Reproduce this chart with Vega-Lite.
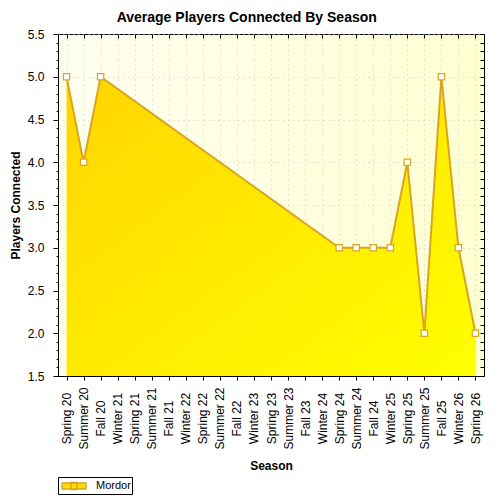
{
  "$schema": "https://vega.github.io/schema/vega-lite/v6.json",
  "width": 426,
  "height": 342,
  "autosize": "none",
  "padding": {"left": 58, "top": 34, "right": 16, "bottom": 124},
  "background": "white",
  "title": {
    "text": "Average Players Connected By Season",
    "font": "Liberation Sans",
    "fontSize": 14,
    "fontWeight": "bold",
    "color": "black",
    "anchor": "middle",
    "frame": "bounds",
    "offset": 3
  },
  "data": {
    "values": [
      {"season": "Spring 20", "players": 5, "series": "Mordor"},
      {"season": "Summer 20", "players": 4, "series": "Mordor"},
      {"season": "Fall 20", "players": 5, "series": "Mordor"},
      {"season": "Spring 24", "players": 3, "series": "Mordor"},
      {"season": "Summer 24", "players": 3, "series": "Mordor"},
      {"season": "Fall 24", "players": 3, "series": "Mordor"},
      {"season": "Winter 25", "players": 3, "series": "Mordor"},
      {"season": "Spring 25", "players": 4, "series": "Mordor"},
      {"season": "Summer 25", "players": 2, "series": "Mordor"},
      {"season": "Fall 25", "players": 5, "series": "Mordor"},
      {"season": "Winter 26", "players": 3, "series": "Mordor"},
      {"season": "Spring 26", "players": 2, "series": "Mordor"}
    ]
  },
  "resolve": {"axis": {"x": "independent", "y": "independent"}},
  "layer": [
    {
      "mark": {
        "type": "area",
        "fill": {
          "gradient": "linear",
          "x1": 0, "y1": 0, "x2": 1, "y2": 1,
          "stops": [
            {"offset": 0, "color": "#FFD500"},
            {"offset": 1, "color": "#FFFF00"}
          ]
        },
        "clip": true
      },
      "encoding": {
        "x": {
          "field": "season",
          "type": "ordinal",
          "scale": {
            "type": "point",
            "padding": 0.5,
            "domain": ["Spring 20", "Summer 20", "Fall 20", "Winter 21", "Spring 21", "Summer 21", "Fall 21", "Winter 22", "Spring 22", "Summer 22", "Fall 22", "Winter 23", "Spring 23", "Summer 23", "Fall 23", "Winter 24", "Spring 24", "Summer 24", "Fall 24", "Winter 25", "Spring 25", "Summer 25", "Fall 25", "Winter 26", "Spring 26"]
          },
          "axis": {
            "orient": "bottom",
            "title": "Season",
            "titleFont": "Liberation Sans",
            "titleFontSize": 12,
            "titleFontWeight": "bold",
            "titleColor": "black",
            "titleY": 89,
            "titleBaseline": "middle",
            "labelFont": "Liberation Sans",
            "labelFontSize": 12,
            "labelColor": "black",
            "labelAngle": -90,
            "labelAlign": "center",
            "labelBaseline": "middle",
            "labelPadding": 38,
            "labelOverlap": false,
            "tickSize": 4,
            "tickColor": "black",
            "domainColor": "black",
            "grid": true,
            "gridColor": "#C8C8C8",
            "gridDash": [1, 4]
          }
        },
        "y": {
          "field": "players",
          "type": "quantitative",
          "scale": {"domain": [1.5, 5.5], "zero": false, "nice": false},
          "axis": {
            "orient": "left",
            "title": "Players Connected",
            "titleFont": "Liberation Sans",
            "titleFontSize": 12,
            "titleFontWeight": "bold",
            "titleColor": "black",
            "titleX": -43,
            "titleBaseline": "middle",
            "values": [1.5, 1.6, 1.7, 1.8, 1.9, 2.0, 2.1, 2.2, 2.3, 2.4, 2.5, 2.6, 2.7, 2.8, 2.9, 3.0, 3.1, 3.2, 3.3, 3.4, 3.5, 3.6, 3.7, 3.8, 3.9, 4.0, 4.1, 4.2, 4.3, 4.4, 4.5, 4.6, 4.7, 4.8, 4.9, 5.0, 5.1, 5.2, 5.3, 5.4, 5.5],
            "labelExpr": "round(datum.value*10) % 5 === 0 ? format(datum.value, '.1f') : ''",
            "labelFont": "Liberation Sans",
            "labelFontSize": 12,
            "labelColor": "black",
            "labelPadding": 9,
            "labelOverlap": false,
            "tickColor": "black",
            "tickSize": {"condition": {"test": "round(datum.value*10) % 5 === 0", "value": 5}, "value": 2},
            "domainColor": "black",
            "grid": true,
            "gridColor": "#C8C8C8",
            "gridDash": [1, 4],
            "gridOpacity": {"condition": {"test": "round(datum.value*10) % 5 === 0", "value": 1}, "value": 0}
          }
        },
        "y2": {"datum": 1.5},
        "order": {"value": null}
      }
    },
    {
      "mark": {"type": "line", "strokeWidth": 2},
      "encoding": {
        "x": {
          "field": "season",
          "type": "ordinal",
          "axis": {
            "orient": "top",
            "title": null,
            "labels": false,
            "domain": false,
            "grid": false,
            "tickSize": -4,
            "tickColor": "black"
          }
        },
        "y": {
          "field": "players",
          "type": "quantitative",
          "axis": {
            "orient": "right",
            "title": null,
            "labels": false,
            "domain": false,
            "grid": false,
            "values": [1.5, 1.6, 1.7, 1.8, 1.9, 2.0, 2.1, 2.2, 2.3, 2.4, 2.5, 2.6, 2.7, 2.8, 2.9, 3.0, 3.1, 3.2, 3.3, 3.4, 3.5, 3.6, 3.7, 3.8, 3.9, 4.0, 4.1, 4.2, 4.3, 4.4, 4.5, 4.6, 4.7, 4.8, 4.9, 5.0, 5.1, 5.2, 5.3, 5.4, 5.5],
            "tickSize": -4,
            "tickColor": "black"
          }
        },
        "color": {
          "field": "series",
          "type": "nominal",
          "scale": {"domain": ["Mordor"], "range": ["#DAA520"]},
          "legend": {
            "title": null,
            "orient": "bottom",
            "direction": "horizontal",
            "strokeColor": "black",
            "fillColor": "white",
            "padding": 1,
            "labelFont": "Liberation Sans",
            "labelFontSize": 11,
            "labelColor": "black",
            "symbolType": "M-1.7,-0.42H1.7V0.42H-1.7Z M-0.45,-0.5H0.45V0.5H-0.45Z",
            "symbolSize": 196,
            "symbolOffset": 7,
            "symbolStrokeWidth": 1.5,
            "labelOffset": 14,
            "offset": 6,
            "encode": {
              "symbols": {"update": {"fill": {"value": "#FFE000"}, "stroke": {"value": "#DAA520"}, "opacity": {"value": 1}, "size": {"value": 196}}}
            }
          }
        },
        "order": {"value": null}
      }
    },
    {
      "mark": {"type": "point", "shape": "square", "size": 40, "filled": true, "fill": "white", "stroke": "#DAA520", "strokeWidth": 1.2, "opacity": 1},
      "encoding": {
        "x": {"field": "season", "type": "ordinal", "axis": null},
        "y": {"field": "players", "type": "quantitative", "axis": null}
      }
    }
  ],
  "config": {
    "view": {
      "stroke": "black",
      "strokeWidth": 1,
      "fill": {
        "gradient": "linear",
        "x1": 0, "y1": 0, "x2": 1, "y2": 0,
        "stops": [
          {"offset": 0, "color": "#FFFFF0"},
          {"offset": 1, "color": "#FFFFD2"}
        ]
      }
    }
  }
}
